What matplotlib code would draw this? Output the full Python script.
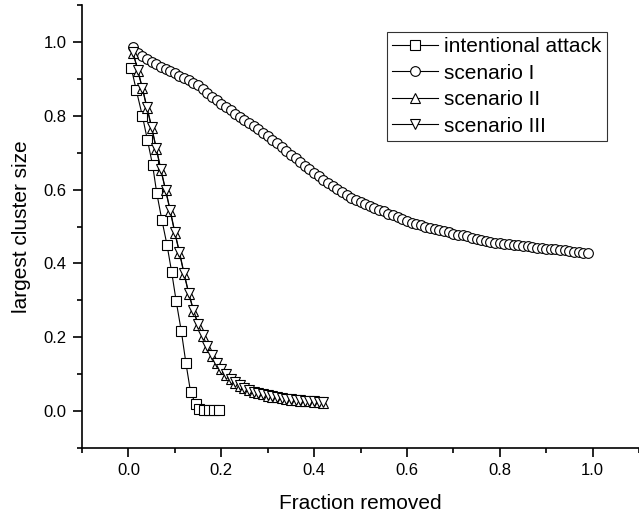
import numpy as np
import matplotlib.pyplot as plt

plt.rcParams['font.family'] = ['Liberation Sans', 'DejaVu Sans']

# intentional attack (squares)
attack_x = [0.006, 0.017, 0.030, 0.041, 0.052, 0.061, 0.072, 0.083, 0.093, 0.103,
            0.114, 0.124, 0.134, 0.145, 0.153, 0.163, 0.173, 0.184, 0.196]
attack_y = [0.930, 0.869, 0.800, 0.734, 0.667, 0.591, 0.518, 0.451, 0.378, 0.297,
            0.216, 0.129, 0.051, 0.019, 0.005, 0.003, 0.002, 0.002, 0.002]

# scenario I (circles), x = 0.01 ... 0.99
scen1_x = [round(0.01 * k, 2) for k in range(1, 100)]
scen1_y = [0.985, 0.970, 0.962, 0.954, 0.946, 0.940, 0.933, 0.927, 0.921, 0.915,
           0.909, 0.903, 0.897, 0.890, 0.882, 0.872, 0.862, 0.851, 0.842, 0.833,
           0.824, 0.815, 0.806, 0.797, 0.788, 0.780, 0.771, 0.763, 0.754, 0.745,
           0.735, 0.725, 0.715, 0.705, 0.695, 0.685, 0.675, 0.665, 0.655, 0.645,
           0.636, 0.627, 0.618, 0.609, 0.601, 0.593, 0.585, 0.578, 0.572, 0.566,
           0.561, 0.556, 0.551, 0.546, 0.541, 0.535, 0.530, 0.525, 0.520, 0.515,
           0.510, 0.506, 0.503, 0.500, 0.496, 0.493, 0.490, 0.487, 0.484, 0.481,
           0.478, 0.476, 0.473, 0.470, 0.467, 0.464, 0.461, 0.458, 0.456, 0.455,
           0.453, 0.452, 0.450, 0.449, 0.447, 0.446, 0.445, 0.443, 0.442, 0.440,
           0.439, 0.438, 0.436, 0.435, 0.433, 0.432, 0.430, 0.429, 0.427]

# scenario II / III (triangles), x = 0.01 ... 0.42
scen23_x = [round(0.01 * k, 2) for k in range(1, 43)]
scen2_y = [0.970, 0.922, 0.874, 0.820, 0.768, 0.710, 0.652, 0.598, 0.542, 0.482,
           0.428, 0.370, 0.318, 0.272, 0.234, 0.203, 0.174, 0.150, 0.130, 0.113,
           0.099, 0.087, 0.077, 0.069, 0.062, 0.057, 0.052, 0.048, 0.045, 0.042,
           0.039, 0.037, 0.035, 0.033, 0.031, 0.030, 0.028, 0.027, 0.026, 0.025,
           0.024, 0.023]
scen3_y = [0.972, 0.925, 0.876, 0.823, 0.770, 0.713, 0.655, 0.600, 0.545, 0.485,
           0.431, 0.373, 0.320, 0.275, 0.236, 0.205, 0.176, 0.152, 0.131, 0.114,
           0.100, 0.088, 0.078, 0.070, 0.063, 0.058, 0.053, 0.049, 0.046, 0.043,
           0.040, 0.038, 0.036, 0.034, 0.032, 0.031, 0.029, 0.028, 0.027, 0.026,
           0.025, 0.024]

fig = plt.figure(figsize=(6.39, 5.21), dpi=100)
ax = fig.add_axes([82 / 639, 1 - 448 / 521, 1 - 82 / 639, 443 / 521])

mk = dict(color='k', lw=0.8, mfc='white', mec='k', mew=0.8)
ax.plot(attack_x, attack_y, marker='s', ms=6.8, label='intentional attack', **mk)
ax.plot(scen1_x, scen1_y, marker='o', ms=7, label='scenario I', **mk)
ax.plot(scen23_x, scen2_y, marker='^', ms=7.5, label='scenario II', **mk)
ax.plot(scen23_x, scen3_y, marker='v', ms=7.5, label='scenario III', **mk)

ax.set_xlim(-0.1, 1.0935)
ax.set_ylim(-0.1, 1.1)
ax.set_xticks([0.0, 0.2, 0.4, 0.6, 0.8, 1.0])
ax.set_xticks(np.arange(-0.1, 1.1, 0.2), minor=True)
ax.set_yticks([0.0, 0.2, 0.4, 0.6, 0.8, 1.0])
ax.set_yticks(np.arange(-0.1, 1.15, 0.2), minor=True)
ax.set_xticklabels(['0.0', '0.2', '0.4', '0.6', '0.8', '1.0'])
ax.set_yticklabels(['0.0', '0.2', '0.4', '0.6', '0.8', '1.0'])

for s in ['top', 'right']:
    ax.spines[s].set_visible(False)
for s in ['left', 'bottom']:
    ax.spines[s].set_linewidth(1.2)
ax.tick_params(which='major', direction='out', length=6.5, width=1.2, labelsize=12, pad=4.5)
ax.tick_params(which='minor', direction='out', length=3.5, width=1.2)

ax.set_xlabel('Fraction removed', fontsize=15, labelpad=11)
ax.set_ylabel('largest cluster size', fontsize=15, labelpad=9)

leg = ax.legend(loc='upper left', bbox_to_anchor=(387 / 639, 1 - 32 / 521),
                bbox_transform=fig.transFigure, fontsize=15, frameon=True,
                fancybox=False, borderaxespad=0, borderpad=0.25, labelspacing=0.36,
                handlelength=2.2, handletextpad=0.3)
leg.get_frame().set_edgecolor('k')
leg.get_frame().set_linewidth(0.8)

fig.savefig('out.png', dpi=100)
